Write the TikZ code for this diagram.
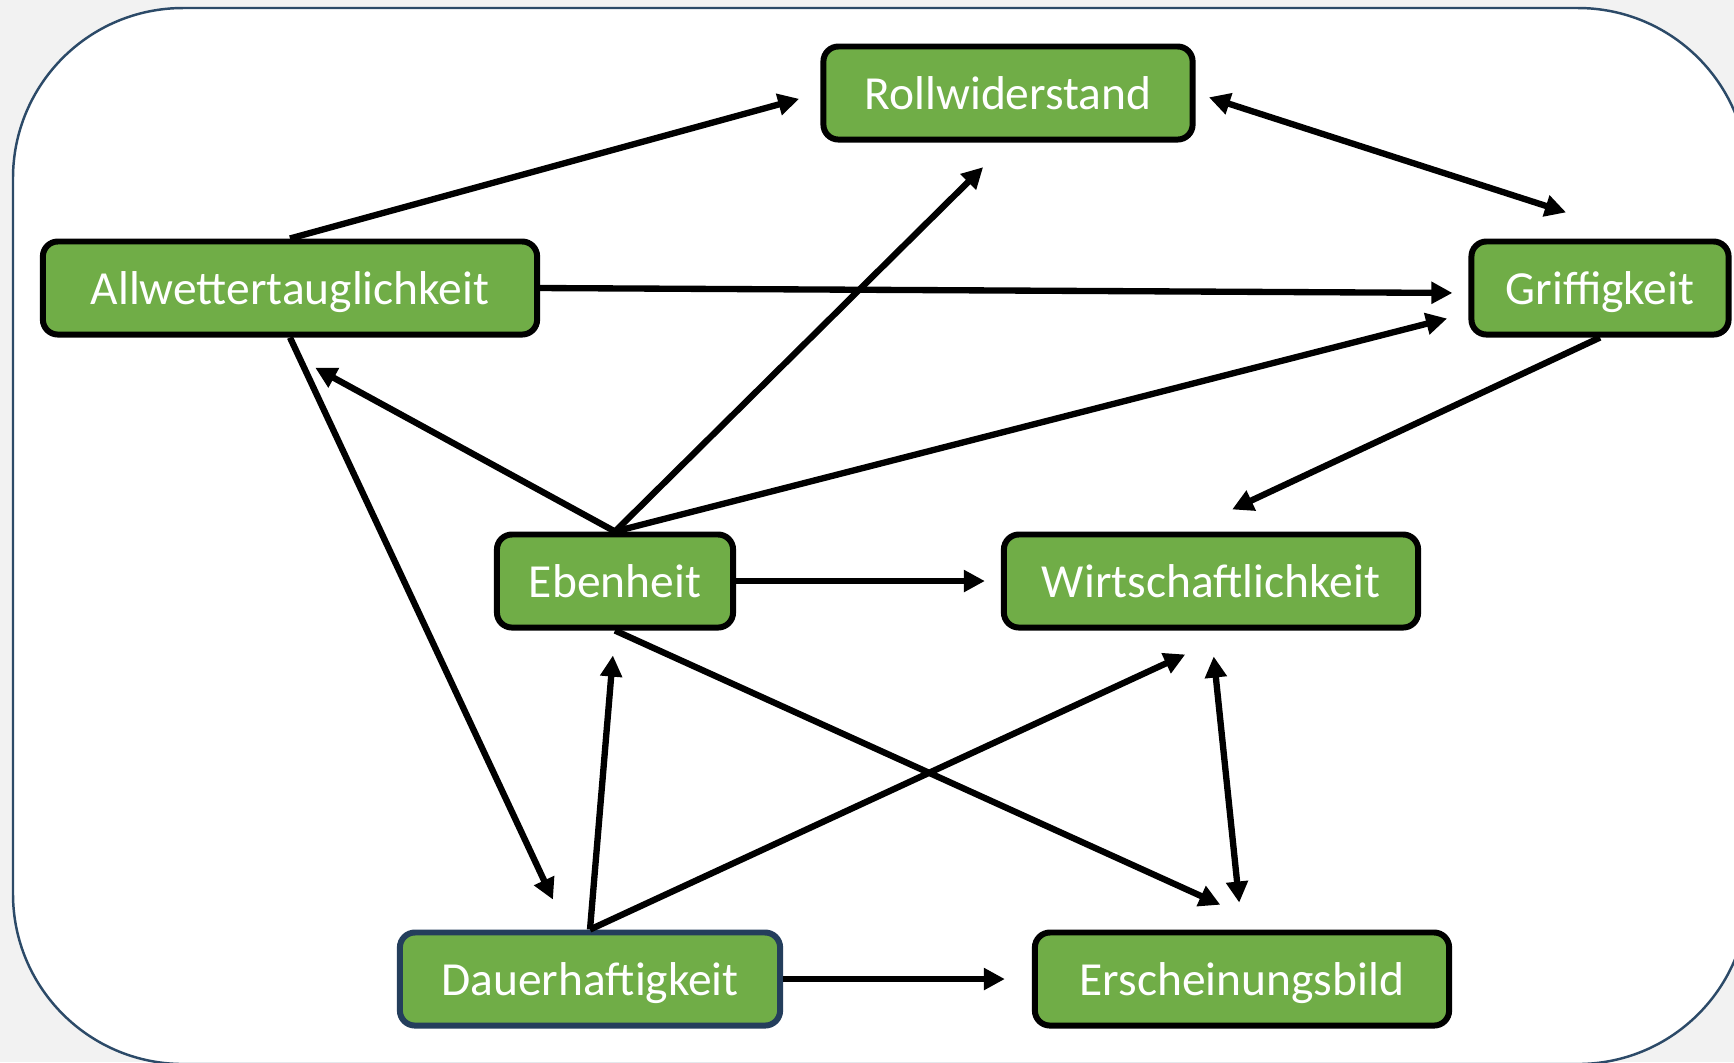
\documentclass[tikz,border=0pt]{standalone}
\usepackage{fontspec}
\setmainfont{Carlito}
\usetikzlibrary{positioning,arrows.meta}
\definecolor{boxgreen}{RGB}{112,173,71}
\definecolor{framecolor}{RGB}{44,74,104}
\definecolor{darkframe}{RGB}{36,62,92}
\definecolor{bggray}{RGB}{242,242,242}
\tikzset{
  crit box/.style={
    rectangle,
    rounded corners=0.15cm,
    draw=black,
    fill=boxgreen,
    line width=1.7pt,
    minimum height=0.93cm,
    text height=12pt,
    text depth=2.4pt,
    inner sep=2pt,
    text=white,
    font=\fontsize{13.5}{16}\selectfont
  },
  crit dark/.style={
    crit box,
    draw=darkframe
  },
  arrow/.style={
    line width=1.8pt,
    -{Triangle[length=6pt,width=6pt]}
  },
  both arrow/.style={
    arrow,
    {Triangle[length=6pt,width=6pt]}-{Triangle[length=6pt,width=6pt]}
  }
}

\begin{document}
\begin{tikzpicture}[x=0.01cm, y=-0.01cm]
  \useasboundingbox (0,0) rectangle (1734,1062);
  % Background and frame
  \fill[bggray] (0,0) rectangle (1734,1062);
  \draw[framecolor, fill=white, line width=0.7pt, rounded corners=1.7cm] (13,8) rectangle (1748,1064);

  % Criteria
  \node[crit box, minimum width=3.69cm] (rollw) at (1008,93) {Rollwiderstand};
  \node[crit box, minimum width=4.94cm] (allw) at (290,288) {Allwettertauglichkeit};
  \node[crit box, minimum width=2.57cm] (griff) at (1600,288) {Griffigkeit};
  \node[crit box, minimum width=2.36cm] (eben) at (615,581) {Ebenheit};
  \node[crit box, minimum width=4.14cm] (wirt) at (1211,581) {Wirtschaftlichkeit};
  \node[crit dark, minimum width=3.8cm] (dauer) at (590,979) {Dauerhaftigkeit};
  \node[crit box, minimum width=4.14cm] (ersch) at (1242,979) {Erscheinungsbild};

  % Relations
  \draw[arrow, shorten >=0.22cm] (allw.north) -- (rollw.west);
  \draw[both arrow, shorten <=0.14cm, shorten >=0.85cm] (rollw.east) -- ([xshift=0.47cm]griff.north);
  \draw[arrow, shorten >=0.16cm] (allw.east) -- ([yshift=-0.05cm]griff.west);
  \draw[arrow, shorten >=0.35cm] (eben.north) -- (rollw.south);
  \draw[arrow, shorten >=0.63cm] (eben.north) -- ([xshift=-0.3cm]allw.south);
  \draw[arrow, shorten >=0.22cm] (eben.north) -- ([yshift=-0.25cm]griff.west);
  \draw[arrow, shorten >=0.52cm] (griff.south) -- ([xshift=-0.26cm]wirt.north);
  \draw[arrow, shorten >=0.16cm] (eben.east) -- (wirt.west);
  \draw[arrow, shorten >=0.33cm] (allw.south) -- ([xshift=-0.23cm]dauer.north);
  \draw[arrow, shorten >=0.25cm] (dauer.north) -- (eben.south);
  \draw[arrow, shorten >=0.57cm] (dauer.north) -- ([xshift=0.26cm]wirt.south);
  \draw[arrow, shorten >=0.6cm] (eben.south) -- ([xshift=0.33cm]ersch.north);
  \draw[both arrow, shorten <=0.26cm, shorten >=0.27cm] (wirt.south) -- (ersch.north);
  \draw[arrow, shorten >=0.27cm] (dauer.east) -- (ersch.west);
\end{tikzpicture}
\end{document}
